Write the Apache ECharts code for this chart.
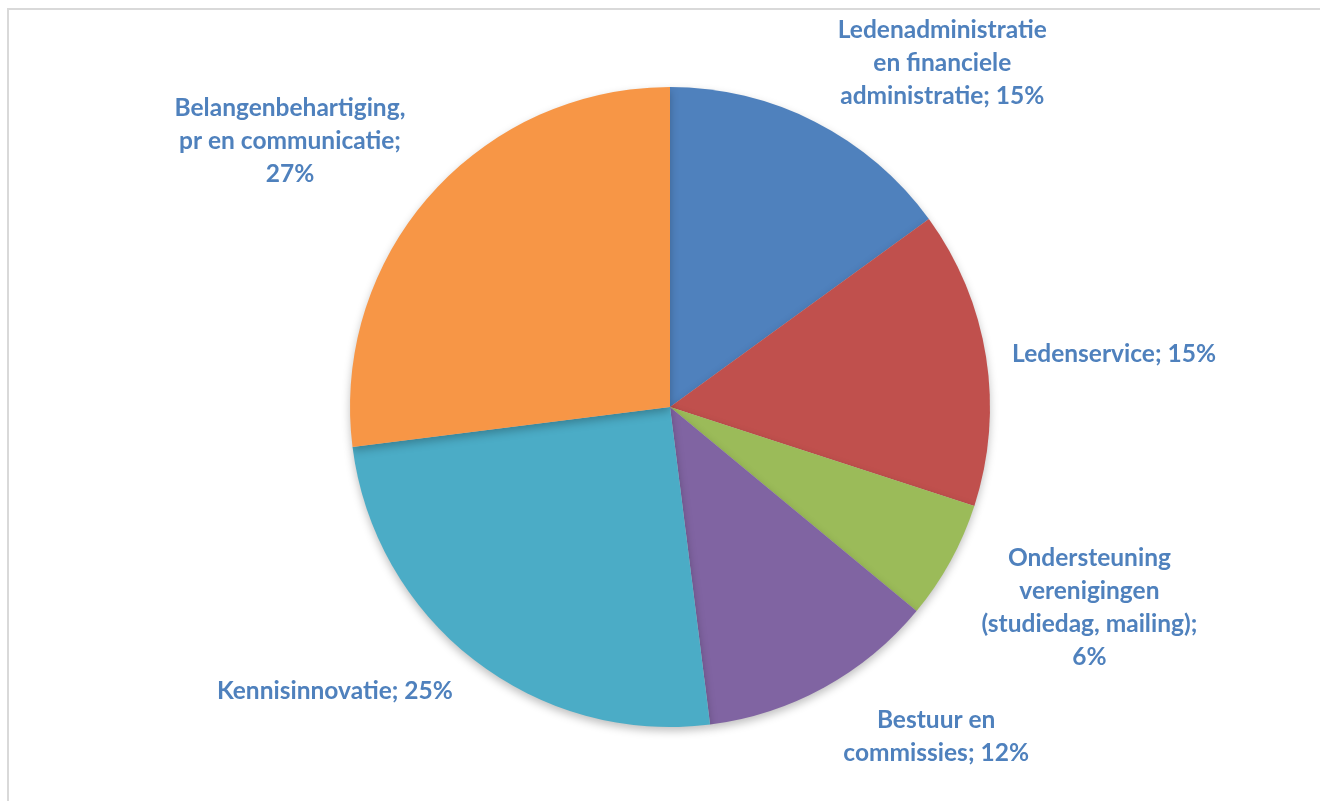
<!DOCTYPE html>
<html>
<head>
<meta charset="utf-8">
<script src="https://cdn.jsdelivr.net/npm/echarts@6/dist/echarts.min.js"></script>
<style>
html,body{margin:0;padding:0;background:#fff;}
#chart{width:1320px;height:801px;}
</style>
</head>
<body>
<div id="chart"></div>
<script>
// Data
const categories = [
  'Ledenadministratie\nen financiele\nadministratie',
  'Ledenservice',
  'Ondersteuning\nverenigingen\n(studiedag, mailing)',
  'Bestuur en\ncommissies',
  'Kennisinnovatie',
  'Belangenbehartiging,\npr en communicatie'
];
const values = [15, 15, 6, 12, 25, 27];
const colors = ['#4F81BD', '#C0504D', '#9BBB59', '#8064A2', '#4BACC6', '#F79646'];
// label nudges relative to the slice edge point (layout only)
const labelNudge = [[127, -59], [128, -3], [139, 46], [112, 49], [-139, 31], [-140, -54]];
// label formatting: where the percentage is placed (same line or new line)
const pctOnNewLine = [false, false, true, false, false, true];

const chart = echarts.init(document.getElementById('chart'));
const option = {
  backgroundColor: '#ffffff',
  animation: false,
  graphic: [{
    type: 'rect',
    silent: true,
    shape: { x: 8, y: 9, width: 1400, height: 900 },
    style: { fill: 'none', stroke: '#d9d9d9', lineWidth: 2 }
  }],
  series: [{
    type: 'pie',
    center: [670, 407],
    radius: 320,
    startAngle: 90,
    clockwise: true,
    avoidLabelOverlap: false,
    itemStyle: {
      borderWidth: 0,
      shadowBlur: 8,
      shadowOffsetY: 4,
      shadowColor: 'rgba(0,0,0,0.25)'
    },
    emphasis: { disabled: true },
    label: {
      show: true,
      position: 'outside',
      distanceToLabelLine: 0,
      color: '#4F81BD',
      fontFamily: 'Lato, "Noto Sans", sans-serif',
      fontWeight: 'bold',
      fontSize: 24.5,
      lineHeight: 33,
      formatter: function (p) {
        const sep = pctOnNewLine[p.dataIndex] ? ';\n' : '; ';
        return p.name + sep + p.value + '%';
      }
    },
    labelLine: { show: false, length: 0, length2: 0 },
    labelLayout: function (params) {
      const n = labelNudge[params.dataIndex];
      return { dx: n[0], dy: n[1], align: 'center', verticalAlign: 'middle' };
    },
    data: categories.map((c, i) => ({ name: c, value: values[i], itemStyle: { color: colors[i] } }))
  }]
};
chart.setOption(option);
</script>
</body>
</html>
